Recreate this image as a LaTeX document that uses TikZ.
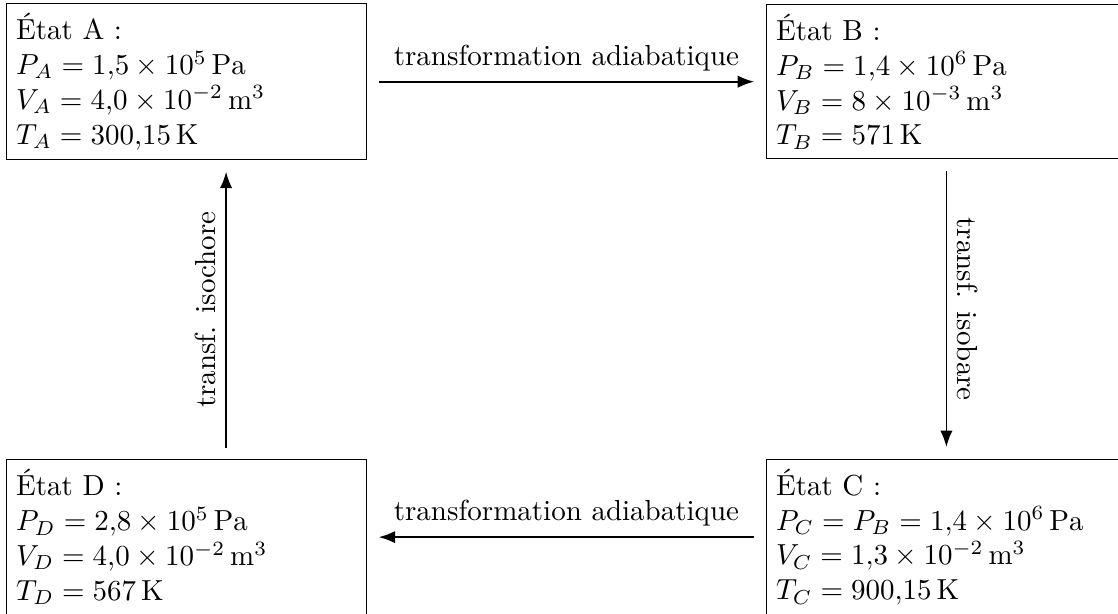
\documentclass[tikz,border=0pt]{standalone}
\usepackage{amsmath,amssymb}
\usepackage{fontspec}
\usepackage{tikz}
\usetikzlibrary{arrows.meta,positioning}

\begin{document}
\begin{tikzpicture}
\useasboundingbox (0,0) rectangle (13.55,-7.43);
\begin{scope}[every node/.style={rectangle,draw,align=left,text width=4.13cm}]
	\node (A) at (2.26,-0.99) {État A :\\
	$P_A = 1{,}5 \times 10^{5}\,\mathrm{Pa}$\\
	$V_A = 4{,}0 \times 10^{-2}\,\mathrm{m}^3$\\
	$T_A = 300{,}15\,\mathrm{K}$};
	\node (B) at (11.47,-0.99) {État B :\\
	$P_B = 1{,}4 \times 10^{6}\,\mathrm{Pa}$\\
	$V_B = 8 \times 10^{-3}\,\mathrm{m}^3$\\
	$T_B = 571\,\mathrm{K}$};
	\node (C) at (11.47,-6.51) {État C :\\
	$P_C = P_B = 1{,}4 \times 10^{6}\,\mathrm{Pa}$\\
	$V_C = 1{,}3 \times 10^{-2}\,\mathrm{m}^3$\\
	$T_C = 900{,}15\,\mathrm{K}$};
	\node (D) at (2.26,-6.51) {État D :\\
	$P_D = 2{,}8 \times 10^{5}\,\mathrm{Pa}$\\
	$V_D = 4{,}0 \times 10^{-2}\,\mathrm{m}^3$\\
	$T_D = 567\,\mathrm{K}$};
\end{scope}

\begin{scope}[semithick,shorten <=4pt,shorten >=4pt]
	\draw[-{Latex[length=2mm]}] (A.east) -- node[above] {transformation adiabatique} (B.west);
	\draw[-{Latex[length=2mm]}] (B.south) -- node[above,sloped] {transf. isobare} (C.north);
	\draw[-{Latex[length=2mm]}] (C.west) -- node[above] {transformation adiabatique} (D.east);
	\draw[-{Latex[length=2mm]}] ([xshift=0.48cm]D.north) -- node[above,sloped] {transf. isochore} ([xshift=0.48cm]A.south);
\end{scope}
\end{tikzpicture}
\end{document}
